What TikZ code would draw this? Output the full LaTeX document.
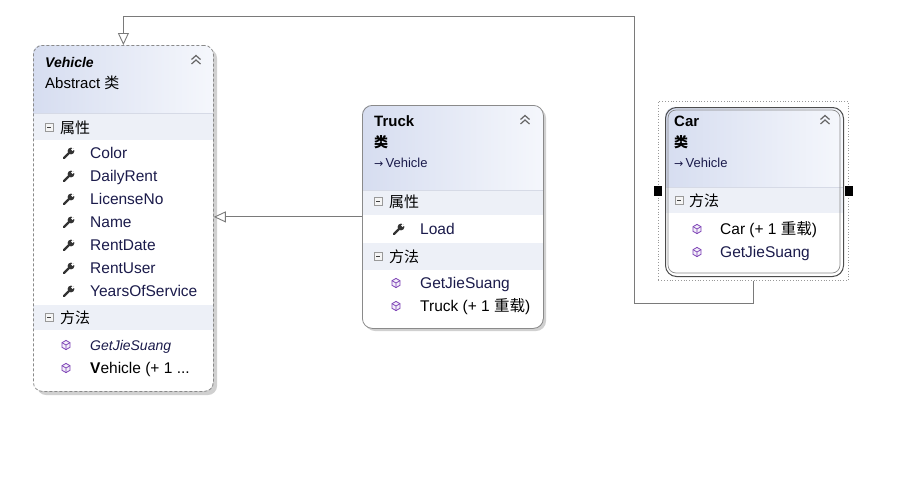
\documentclass[tikz,border=0pt]{standalone}
\usepackage{fontspec}
\setmainfont{Liberation Sans}
\newfontfamily\cjk{Noto Sans CJK SC}
\newfontfamily\djv{DejaVu Sans}
\usetikzlibrary{arrows.meta}
\definecolor{hdr}{HTML}{D6DDF0}
\definecolor{hdrr}{HTML}{F5F7FC}
\definecolor{sect}{HTML}{EDF0F7}
\definecolor{sepc}{HTML}{D6DAE6}
\definecolor{bord}{HTML}{8A8A8A}
\definecolor{mem}{HTML}{1B1B4B}
\definecolor{meth}{HTML}{7B3FB5}
\definecolor{shadowc}{HTML}{D0D0D0}
\definecolor{conn}{HTML}{7A7A7A}
\tikzset{
  pics/collapsebox/.style={code={
    \draw[draw=gray!80, fill=gray!8, line width=0.6pt] (-4,-4) rectangle (4,4);
    \draw[black!75, line width=0.9pt] (-2,0) -- (2,0);}},
  pics/wrench/.style={code={
    \draw[black!80, line width=2.4pt, line cap=round] (-5,5) -- (0.5,-0.5);
    \fill[black!80] (2,-2) circle (3.4);
    \fill[white] (3.6,-3.6) circle (1.5);}},
  pics/cube/.style={code={
    \draw[meth, line width=0.8pt, fill=meth!8] (0,-4.6) -- (4,-2.3) -- (4,2.3) -- (0,4.6) -- (-4,2.3) -- (-4,-2.3) -- cycle;
    \draw[meth, line width=0.7pt] (-4,-2.3) -- (0,0) -- (4,-2.3) (0,0) -- (0,4.6);}},
  pics/chev/.style={code={
    \draw[black!60, line width=1.2pt] (-4.5,-0.5) -- (0,-4.5) -- (4.5,-0.5) (-4.5,4) -- (0,0) -- (4.5,4);}}
}
\begin{document}
\begin{tikzpicture}[x=1pt,y=-1pt,
  mtxt/.style={anchor=base west, inner sep=0pt, font=\fontsize{15.5}{18}\selectfont, text=mem},
  ttl/.style={anchor=base west, inner sep=0pt, font=\bfseries\fontsize{15}{18}\selectfont, text=black},
  sectxt/.style={anchor=base west, inner sep=0pt, font=\cjk\fontsize{15}{18}\selectfont, text=black},
  basetxt/.style={anchor=base west, inner sep=0pt, font=\fontsize{13}{16}\selectfont, text=mem},
  boxline/.style={draw=bord, line width=0.8pt, rounded corners=9pt, inner sep=0pt, anchor=north west},
  inherit/.style={draw=conn, line width=0.9pt, -{Triangle[open, length=12pt, width=11pt, fill=white]}},
  handle/.style={fill=black, inner sep=0pt, minimum width=8pt, minimum height=10pt}
]
\useasboundingbox (0,0) rectangle (909,485);
\fill[white] (0,0) rectangle (909,485);

% shadows
\fill[shadowc, rounded corners=9pt] (37,49) rectangle (217,395);
\fill[shadowc, rounded corners=10pt] (365,108) rectangle (546,331);

% Vehicle body
\begin{scope}
\clip[rounded corners=9pt] (33,45) rectangle (213,391);
\fill[white] (33,45) rectangle (213,391);
\shade[left color=hdr, right color=hdrr] (33,45) rectangle (213,113);
\fill[sect] (33,113) rectangle (213,140);
\fill[sect] (33,305) rectangle (213,330);
\draw[sepc] (33,113) -- (213,113);
\end{scope}
\node[boxline, dashed, dash pattern=on 3pt off 2pt, minimum width=180pt, minimum height=346pt] (vehicle) at (33,45) {};

% Truck body
\begin{scope}
\clip[rounded corners=10pt] (362,105) rectangle (543,328);
\fill[white] (362,105) rectangle (543,328);
\shade[left color=hdr, right color=hdrr] (362,105) rectangle (543,190);
\fill[sect] (362,190) rectangle (543,215);
\fill[sect] (362,243) rectangle (543,270);
\draw[sepc] (362,190) -- (543,190);
\end{scope}
\node[boxline, rounded corners=10pt, minimum width=181pt, minimum height=223pt] (truck) at (362,105) {};

% Car selection and body
\node[draw=gray!80, dotted, line width=0.8pt, inner sep=0pt, anchor=north west, minimum width=190pt, minimum height=179pt] (carsel) at (658,101) {};
\begin{scope}
\clip[rounded corners=10pt] (665,107) rectangle (843,276);
\fill[white] (665,107) rectangle (843,276);
\shade[left color=hdr, right color=hdrr] (665,107) rectangle (843,187);
\fill[sect] (665,187) rectangle (843,213);
\draw[sepc] (665,187) -- (843,187);
\end{scope}
\node[boxline, draw=black!70, line width=1pt, rounded corners=11pt, minimum width=178pt, minimum height=169pt] (car) at (665,107) {};
\draw[bord, line width=0.7pt, rounded corners=8pt] (668,110) rectangle (840,273);
\node[handle] (hl) at (carsel.west) {};
\node[handle] (hr) at (carsel.east) {};

% connectors
\coordinate (c1) at (634,303);
\coordinate (c2) at (634,16);
\draw[inherit] (carsel.south) |- (c1) -- (c2) -| (vehicle.north);
\draw[inherit] (truck.west) -- (truck.west -| vehicle.east);

% Vehicle texts
\node[anchor=base west, inner sep=0pt, font=\bfseries\itshape\fontsize{14}{17}\selectfont] (vt) at (45,67) {Vehicle};
\node[anchor=base west, inner sep=0pt, font=\fontsize{15}{18}\selectfont] (vs) at (45,88) {Abstract {\cjk 类}};
\pic at (196,60) {chev};
\pic at (49,127) {collapsebox};
\node[sectxt] (vp) at (60,133) {属性};
\foreach \n/\t [count=\i] in {153/Color,176/DailyRent,199/LicenseNo,222/Name,245/RentDate,268/RentUser,291/YearsOfService}{
  \pic at (69,\n) {wrench};
  \node[mtxt] (vm\i) at (90,\n+5) {\t};
}
\pic at (49,317) {collapsebox};
\node[sectxt] (vf) at (60,323) {方法};
\pic at (66,345) {cube};
\node[mtxt, font=\itshape\fontsize{14}{17}\selectfont] (vg) at (90,350) {GetJieSuang};
\pic at (66,368) {cube};
\node[mtxt, text=black] (vc) at (90,373) {\textbf{V}ehicle (+ 1 ...};

% Truck texts
\node[ttl] (tt) at (374,126) {Truck};
\node[sectxt, font=\cjk\bfseries\fontsize{14}{17}\selectfont] (ts) at (374,147) {类};
\node[basetxt] (tb) at (374,167) {{\djv\fontsize{11}{12}\selectfont →}\,Vehicle};
\pic at (525,120) {chev};
\pic at (378,201) {collapsebox};
\node[sectxt] (tp) at (389,207) {属性};
\pic at (399,229) {wrench};
\node[mtxt] (tl) at (420,234) {Load};
\pic at (378,256) {collapsebox};
\node[sectxt] (tf) at (389,262) {方法};
\pic at (396,283) {cube};
\node[mtxt] (tg) at (420,288) {GetJieSuang};
\pic at (396,306) {cube};
\node[mtxt, text=black] (tc) at (420,311) {Truck (+ 1 {\cjk 重载})};

% Car texts
\node[ttl] (ct) at (674,126) {Car};
\node[sectxt, font=\cjk\bfseries\fontsize{14}{17}\selectfont] (cs) at (674,147) {类};
\node[basetxt] (cb) at (674,167) {{\djv\fontsize{11}{12}\selectfont →}\,Vehicle};
\pic at (825,120) {chev};
\pic at (679,200) {collapsebox};
\node[sectxt] (cf) at (689,206) {方法};
\pic at (697,229) {cube};
\node[mtxt, text=black] (cc) at (720,234) {Car (+ 1 {\cjk 重载})};
\pic at (697,252) {cube};
\node[mtxt] (cg) at (720,257) {GetJieSuang};
\end{tikzpicture}
\end{document}
